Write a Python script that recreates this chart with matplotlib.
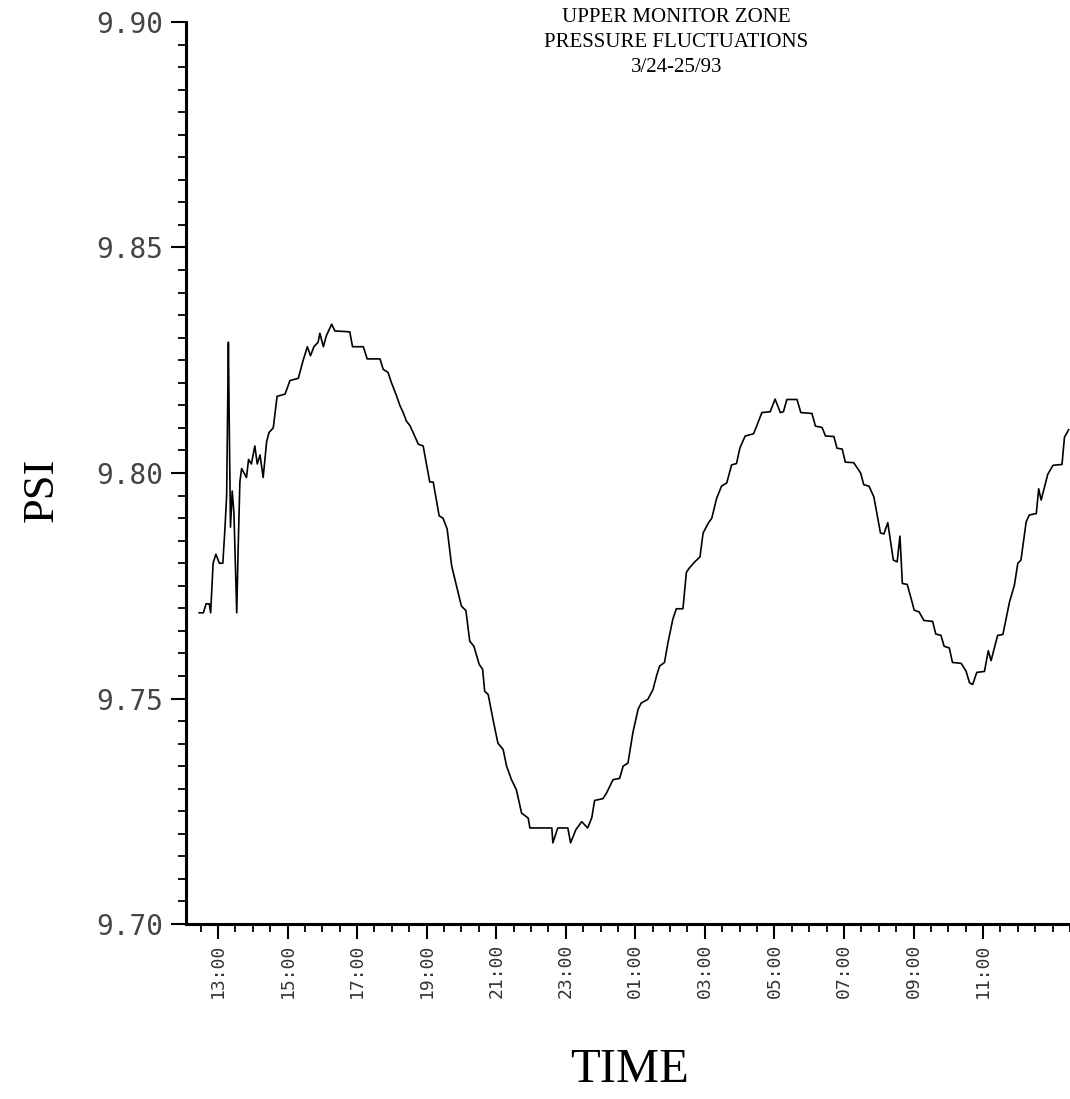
import matplotlib
matplotlib.use("Agg")
import matplotlib.pyplot as plt
from matplotlib.ticker import MultipleLocator

# time in hours from midnight 3/24 (values past 24 are on 3/25)
hours = [12.46, 12.58, 12.66, 12.75, 12.79, 12.86, 12.94, 13.04, 13.14, 13.20,
         13.25, 13.30, 13.32, 13.36, 13.41, 13.46, 13.54, 13.58, 13.63, 13.68,
         13.75, 13.82, 13.88, 13.96, 14.06, 14.13, 14.21, 14.30, 14.40, 14.47,
         14.59, 14.70, 14.93, 15.07, 15.31, 15.45, 15.57, 15.66, 15.76, 15.88,
         15.93, 16.03, 16.12, 16.27, 16.36, 16.79, 16.87, 17.18, 17.29, 17.66,
         17.75, 17.89, 17.99, 18.14, 18.23, 18.32, 18.42, 18.52, 18.61, 18.76,
         18.90, 19.09, 19.19, 19.36, 19.47, 19.59, 19.72, 19.86, 20.00, 20.13,
         20.24, 20.36, 20.51, 20.61, 20.67, 20.77, 20.91, 21.05, 21.20, 21.30,
         21.44, 21.58, 21.73, 21.92, 21.97, 22.60, 22.63, 22.77, 23.06, 23.14,
         23.29, 23.46, 23.63, 23.75, 23.83, 24.07, 24.17, 24.36, 24.55, 24.65,
         24.79, 24.93, 25.08, 25.17, 25.36, 25.51, 25.61, 25.70, 25.84, 25.94,
         26.08, 26.18, 26.37, 26.47, 26.56, 26.71, 26.86, 26.95, 27.10, 27.20,
         27.34, 27.48, 27.63, 27.77, 27.91, 28.01, 28.16, 28.40, 28.49, 28.64,
         28.88, 29.02, 29.17, 29.26, 29.36, 29.65, 29.76, 30.08, 30.18, 30.37,
         30.47, 30.71, 30.80, 30.95, 31.04, 31.28, 31.48, 31.57, 31.72, 31.86,
         32.05, 32.15, 32.26, 32.42, 32.53, 32.61, 32.68, 32.82, 32.92, 33.02,
         33.16, 33.30, 33.55, 33.64, 33.79, 33.88, 34.03, 34.12, 34.37, 34.51,
         34.61, 34.70, 34.82, 35.04, 35.15, 35.23, 35.42, 35.57, 35.76, 35.90,
         36.00, 36.09, 36.24, 36.33, 36.53, 36.60, 36.67, 36.86, 37.01, 37.27,
         37.34, 37.46]

psi = [9.7690, 9.7690, 9.7710, 9.7710, 9.7690, 9.7800, 9.7820, 9.7800, 9.7800, 9.7876,
       9.7950, 9.8290, 9.8140, 9.7880, 9.7960, 9.7910, 9.7690, 9.7830, 9.7980, 9.8010,
       9.8000, 9.7990, 9.8030, 9.8020, 9.8060, 9.8020, 9.8040, 9.7990, 9.8070, 9.8090,
       9.8100, 9.8170, 9.8175, 9.8205, 9.8210, 9.8250, 9.8280, 9.8260, 9.8280, 9.8290,
       9.8310, 9.8280, 9.8305, 9.8330, 9.8315, 9.8313, 9.8280, 9.8280, 9.8253, 9.8253,
       9.8230, 9.8223, 9.8200, 9.8170, 9.8150, 9.8135, 9.8115, 9.8105, 9.8090, 9.8064,
       9.8060, 9.7980, 9.7980, 9.7905, 9.7900, 9.7876, 9.7794, 9.7750, 9.7705, 9.7695,
       9.7627, 9.7616, 9.7576, 9.7565, 9.7516, 9.7509, 9.7453, 9.7401, 9.7387, 9.7350,
       9.7320, 9.7298, 9.7246, 9.7235, 9.7213, 9.7213, 9.7180, 9.7213, 9.7213, 9.7180,
       9.7209, 9.7227, 9.7213, 9.7236, 9.7274, 9.7278, 9.7290, 9.7320, 9.7323, 9.7350,
       9.7357, 9.7424, 9.7476, 9.7490, 9.7498, 9.7520, 9.7550, 9.7572, 9.7580, 9.7624,
       9.7676, 9.7699, 9.7699, 9.7780, 9.7790, 9.7803, 9.7814, 9.7867, 9.7889, 9.7900,
       9.7944, 9.7971, 9.7978, 9.8018, 9.8021, 9.8056, 9.8082, 9.8087, 9.8104, 9.8134,
       9.8136, 9.8164, 9.8134, 9.8136, 9.8163, 9.8163, 9.8134, 9.8132, 9.8104, 9.8101,
       9.8082, 9.8081, 9.8055, 9.8053, 9.8024, 9.8023, 9.8000, 9.7974, 9.7971, 9.7947,
       9.7867, 9.7865, 9.7890, 9.7807, 9.7803, 9.7860, 9.7755, 9.7753, 9.7725, 9.7696,
       9.7692, 9.7673, 9.7671, 9.7643, 9.7640, 9.7616, 9.7612, 9.7580, 9.7578, 9.7561,
       9.7535, 9.7531, 9.7558, 9.7560, 9.7606, 9.7584, 9.7640, 9.7642, 9.7714, 9.7751,
       9.7800, 9.7807, 9.7892, 9.7907, 9.7910, 9.7965, 9.7940, 9.7997, 9.8017, 9.8019,
       9.8079, 9.8096]

x_ticks = [13, 15, 17, 19, 21, 23, 25, 27, 29, 31, 33, 35]
x_labels = ["13:00", "15:00", "17:00", "19:00", "21:00", "23:00",
            "01:00", "03:00", "05:00", "07:00", "09:00", "11:00"]
y_ticks = [9.70, 9.75, 9.80, 9.85, 9.90]
y_labels = ["9.70", "9.75", "9.80", "9.85", "9.90"]

fig = plt.figure(figsize=(10.7, 10.99), dpi=100)
ax = fig.add_axes([0.1738, 0.1592, 0.8262, 0.8208])

ax.plot(hours, psi, color="black", linewidth=1.2)

ax.set_xlim(12.08, 37.5)
ax.set_ylim(9.70, 9.90)

for side in ("top", "right"):
    ax.spines[side].set_visible(False)
for side in ("left", "bottom"):
    ax.spines[side].set_linewidth(2.2)

ax.set_xticks(x_ticks)
ax.set_xticklabels(x_labels, rotation=90, family="DejaVu Sans Mono",
                   fontsize=13, color="#333333")
ax.xaxis.set_minor_locator(MultipleLocator(0.5))
ax.set_yticks(y_ticks)
ax.set_yticklabels(y_labels, family="DejaVu Sans Mono", fontsize=20,
                   color="#444444")
ax.yaxis.set_minor_locator(MultipleLocator(0.005))

ax.tick_params(axis="both", which="major", direction="out", length=11,
               width=1.5, color="black")
ax.tick_params(axis="both", which="minor", direction="out", length=6,
               width=1.3, color="black")
ax.tick_params(axis="y", which="major", pad=5)
ax.tick_params(axis="x", which="major", pad=3)

title_lines = ["UPPER MONITOR ZONE", "PRESSURE FLUCTUATIONS", "3/24-25/93"]
for i, line in enumerate(title_lines):
    fig.text(0.632, 1 - (18 + 24.5 * i) / 1099, line, family="Liberation Serif",
             fontsize=15, ha="center", va="center")

fig.text(42 / 1070, 1 - 490 / 1099, "PSI", family="Liberation Serif",
         fontsize=32, rotation=90, ha="center", va="center")
fig.text(630 / 1070, 1 - 1070 / 1099, "TIME", family="Liberation Serif",
         fontsize=35, ha="center", va="center")

fig.savefig("out.png", dpi=100)
